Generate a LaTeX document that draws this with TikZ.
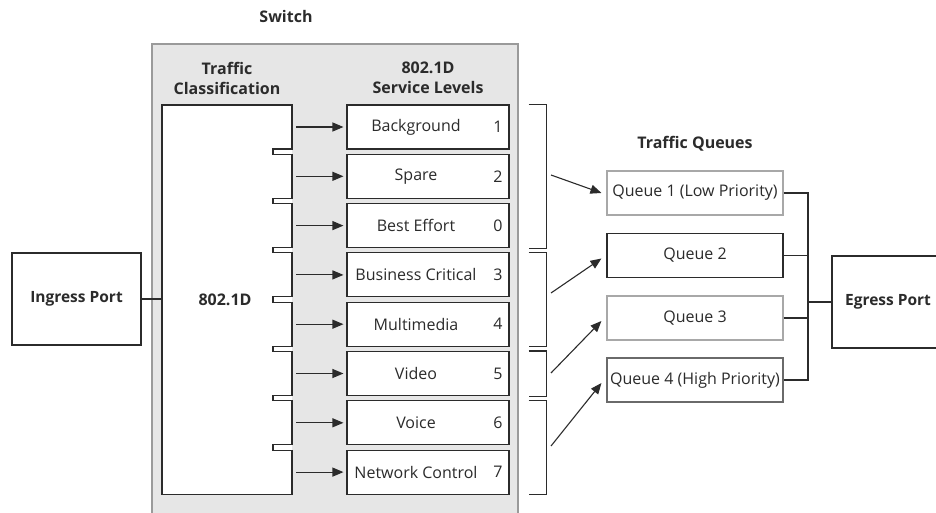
\documentclass[tikz,border=0pt]{standalone}
\usepackage{fontspec}
\setmainfont{Open Sans}
\usetikzlibrary{arrows.meta,calc}
\definecolor{ink}{HTML}{2B2B2B}
\definecolor{switchfill}{HTML}{E6E6E6}
\definecolor{switchedge}{HTML}{9A9A9A}
\definecolor{lightedge}{HTML}{A8A8A8}
\definecolor{midedge}{HTML}{6A6A6A}
\tikzset{
  lvlbox/.style={draw=ink, fill=white, minimum width=162pt, minimum height=44pt, inner sep=0pt},
  lvltext/.style={font=\fontsize{16}{19}\selectfont, text=ink, inner sep=0pt},
  head/.style={font=\bfseries\fontsize{16}{20}\selectfont, align=center, text=ink, inner sep=0pt},
  qbox/.style={fill=white, minimum width=176pt, minimum height=44pt, inner sep=0pt,
    font=\fontsize{16}{19}\selectfont, text=ink},
  portbox/.style={draw=ink, fill=white, minimum height=92pt, inner sep=0pt,
    font=\bfseries\fontsize{15.5}{19}\selectfont, text=ink},
  arr/.style={-{Triangle[length=11pt,width=9pt]}, draw=ink},
  bracket/.style={draw=ink}
}
\begin{document}
\begin{tikzpicture}[x=1pt, y=-1pt, line width=1.1pt, ink]
\clip (0,0) rectangle (936,513);

% switch housing
\draw[switchedge, fill=switchfill] (152,44) rectangle (518,540);
\node[head] (switch) at (286,17) {Switch};
\node[head] (clshead) at (227,78) {Traffic\\Classification};
\node[head] (lvlhead) at (428,78) {802.1D\\Service Levels};
\node[head] (qhead) at (695,144) {Traffic Queues};

% classifier block with notched right edge
\fill[white] (162,105) rectangle (292,494.1);
\draw[ink] (162,105) -- (292,105)
  -- (292,149)   -- (273,149)   -- (273,154.3) -- (292,154.3)
  -- (292,198.3) -- (273,198.3) -- (273,203.6) -- (292,203.6)
  -- (292,247.6) -- (273,247.6) -- (273,252.9) -- (292,252.9)
  -- (292,296.9) -- (273,296.9) -- (273,302.2) -- (292,302.2)
  -- (292,346.2) -- (273,346.2) -- (273,351.5) -- (292,351.5)
  -- (292,395.5) -- (273,395.5) -- (273,400.8) -- (292,400.8)
  -- (292,444.8) -- (273,444.8) -- (273,450.1) -- (292,450.1)
  -- (292,494.1) -- (162,494.1) -- cycle;
\node[minimum width=130pt, minimum height=389pt, inner sep=0pt] (cls) at (227,299) {};
\node[head] (clslabel) at (225,300) {802.1D};

% ports
\node[portbox, minimum width=129pt] (ingress) at (76.5,299) {Ingress Port};
\node[portbox, minimum width=112pt] (egress) at (888,302) {Egress Port};
\draw (ingress) -- (cls);

% service levels
\foreach \i/\name/\num in {0/Background/1, 1/Spare/2, 2/Best Effort/0,
    3/Business Critical/3, 4/Multimedia/4, 5/Video/5, 6/Voice/6, 7/Network Control/7} {
  \pgfmathsetmacro{\yy}{127+49.3*\i}
  \node[lvlbox] (s\i) at (428,\yy) {};
  \node[lvltext] (s\i name) at (416,\yy) {\name};
  \node[lvltext] (s\i num) at (498,\yy) {\num};
  \draw[arr] ([xshift=-50pt]s\i.west) -- ([xshift=-3pt]s\i.west);
}

% grouping brackets
\draw[bracket] ([xshift=19pt]s0.north east) -- ([xshift=37pt]s0.north east)
  -- ([xshift=37pt]s2.south east) -- ([xshift=19pt]s2.south east);
\draw[bracket] ([xshift=19pt]s3.north east) -- ([xshift=37pt]s3.north east)
  -- ([xshift=37pt]s4.south east) -- ([xshift=19pt]s4.south east);
\draw[bracket] ([xshift=19pt]s5.north east) -- ([xshift=37pt]s5.north east)
  -- ([xshift=37pt]s5.south east) -- ([xshift=19pt]s5.south east);
\draw[bracket] ([xshift=19pt]s6.north east) -- ([xshift=37pt]s6.north east)
  -- ([xshift=37pt]s7.south east) -- ([xshift=19pt]s7.south east);
\coordinate (g1) at (551,175);
\coordinate (g2) at (551,293);
\coordinate (g3) at (551,373);
\coordinate (g4) at (551,446);

% queues
\node[qbox, draw=lightedge] (q1) at (695,193) {Queue 1 (Low Priority)};
\node[qbox, draw=ink] (q2) at (695,255.5) {Queue 2};
\node[qbox, draw=lightedge] (q3) at (695,318) {Queue 3};
\node[qbox, draw=midedge] (q4) at (695,380) {Queue 4 (High Priority)};

\draw[arr] (g1) -- ([xshift=-5pt]q1.west);
\draw[arr] (g2) -- ([shift={(-5pt,-3pt)}]q2.west);
\draw[arr] (g3) -- ([shift={(-5pt,-3pt)}]q3.west);
\draw[arr] (g4) -- ([shift={(-5pt,-3pt)}]q4.west);

% output bus to egress
\coordinate (bus) at (808,300);
\draw (q1.east) -- (q1.east -| bus) -- (q4.east -| bus) -- (q4.east);
\draw (q2.east) -- (q2.east -| bus);
\draw (q3.east) -- (q3.east -| bus);
\draw (egress.west) -- (egress.west -| bus);
\end{tikzpicture}
\end{document}
